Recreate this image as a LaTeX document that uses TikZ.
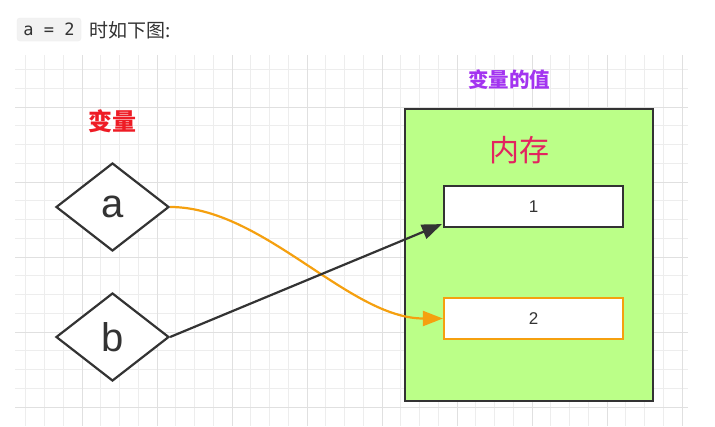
\documentclass[tikz,border=0pt]{standalone}
\usepackage{fontspec}
\setmainfont{Liberation Sans}
\newfontfamily\cjk{Noto Sans CJK SC}
\newfontfamily\codefont{DejaVu Sans Mono}
\usetikzlibrary{shapes.geometric,arrows.meta}
\definecolor{gridminor}{HTML}{EDEDED}
\definecolor{gridmajor}{HTML}{E0E0E0}
\definecolor{linedark}{HTML}{333333}
\definecolor{memgreen}{HTML}{BBFF88}
\definecolor{orangeline}{HTML}{F5A00F}
\definecolor{varred}{HTML}{EE1C25}
\definecolor{valpurple}{HTML}{A334F0}
\definecolor{mempink}{HTML}{E3235F}
\definecolor{codebg}{HTML}{F2F2F2}
\tikzset{
  minorline/.style={draw=gridminor, line width=0.8pt},
  majorline/.style={draw=gridmajor, line width=1pt},
  varshape/.style={diamond, aspect=1.284, minimum width=113pt, minimum height=88pt,
    inner sep=0pt, draw=linedark, line width=2.2pt, fill=white,
    font=\fontsize{40}{42}\selectfont, text=linedark},
  cellbox/.style={rectangle, minimum width=179pt, minimum height=41pt, inner sep=0pt,
    fill=white, line width=2.2pt, font=\fontsize{17}{19}\selectfont, text=linedark},
  codebox/.style={rectangle, rounded corners=3pt, fill=codebg, draw=gridminor,
    minimum width=64pt, minimum height=23pt, inner sep=0pt,
    font=\codefont\fontsize{17}{19}\selectfont, text=linedark},
  conn/.style={line width=2.2pt, -{Triangle[length=20pt,width=15pt]}},
}
\begin{document}
\begin{tikzpicture}[x=1pt,y=-1pt]
\useasboundingbox (0,0) rectangle (715,426);
\fill[white] (0,0) rectangle (715,426);
% grid
\foreach \i in {0,...,35} \draw[minorline] ({25.75+18.75*\i},55) -- ({25.75+18.75*\i},426);
\foreach \i in {0,...,18} \draw[minorline] (15,{69.5+18.75*\i}) -- (688,{69.5+18.75*\i});
\foreach \i in {0,...,8} \draw[majorline] ({82+75*\i},55) -- ({82+75*\i},426);
\foreach \i in {0,...,4} \draw[majorline] (15,{107+75*\i}) -- (688,{107+75*\i});
% header text
\node[codebox] (code) at (49,29.5) {a = 2};
\node[anchor=west, inner sep=0pt, text=linedark] (caption) at (89,30)
  {\cjk\fontsize{19}{21}\selectfont 时如下图:};
% memory block
\node[rectangle, draw=linedark, fill=memgreen, line width=2.4pt, minimum width=248pt,
  minimum height=292pt, inner sep=0pt] (mem) at (529,255) {};
\node[text=valpurple, inner sep=0pt] (vallabel) at (509,80)
  {\cjk\bfseries\fontsize{20.5}{22}\selectfont 变量的值};
\node[text=varred, inner sep=0pt] (varlabel) at (112,121)
  {\cjk\bfseries\fontsize{24}{26}\selectfont 变量};
\node[text=mempink, inner sep=0pt] (memlabel) at (519,150)
  {\cjk\fontsize{30}{32}\selectfont 内存};
\node[cellbox, draw=linedark] (box1) at (533.5,206.5) {1};
\node[cellbox, draw=orangeline] (box2) at (533.5,318.5) {2};
% variables
\node[varshape] (a) at (112.5,207) {a};
\node[varshape] (b) at (112.5,337) {b};
% connectors
\draw[conn, draw=orangeline]
  (a.east) .. controls +(93,0) and +(-94,0) .. (box2.west);
\draw[conn, draw=linedark]
  (b.east) -- ([xshift=-1pt,yshift=4pt]box1.south west);
\end{tikzpicture}
\end{document}
